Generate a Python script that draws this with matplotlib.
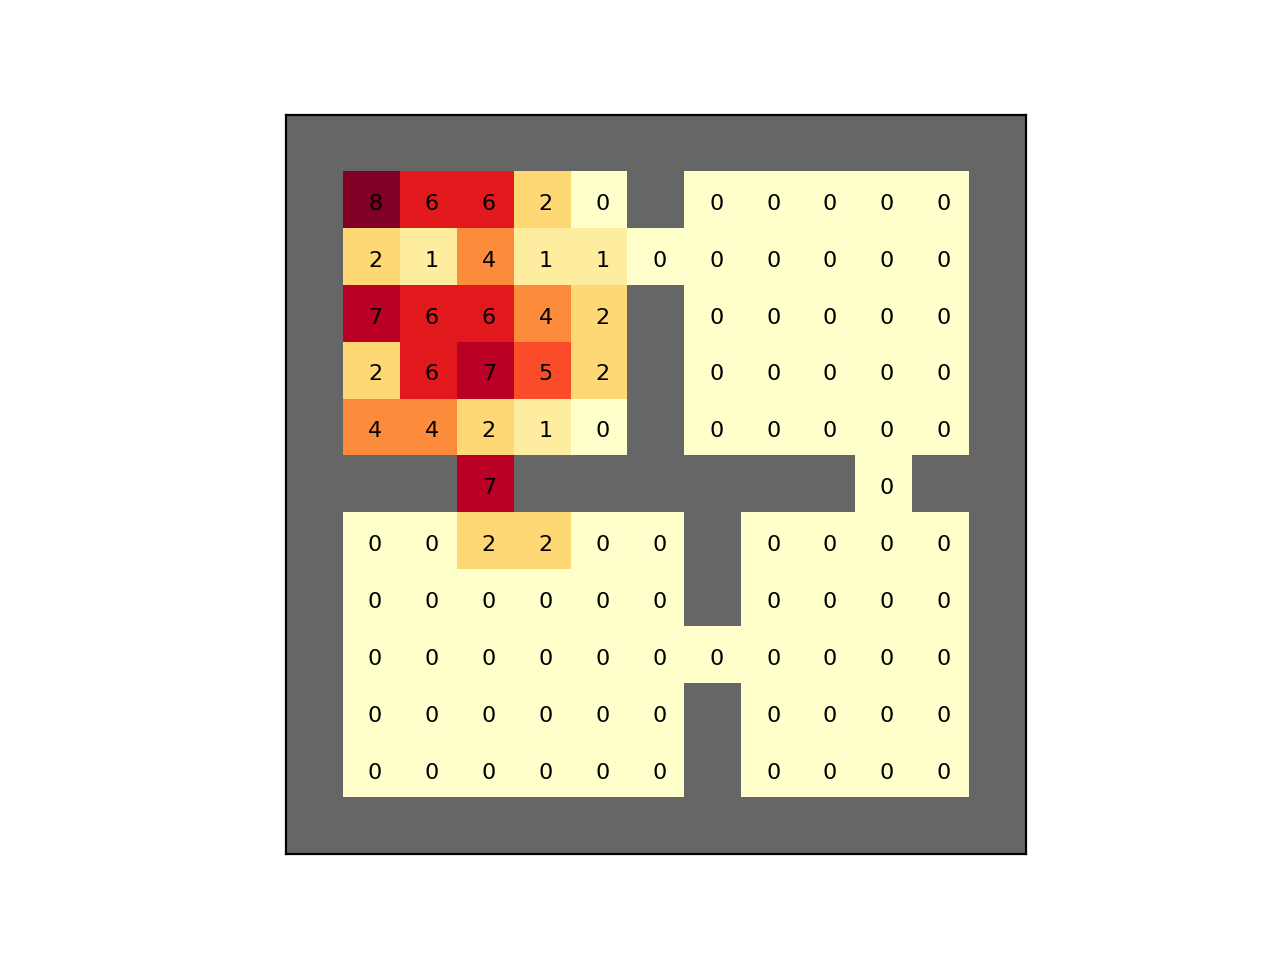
import numpy as np
import matplotlib
matplotlib.use('Agg')
import matplotlib.pyplot as plt

W = -1  # wall marker

grid = [
    [W, W, W, W, W, W, W, W, W, W, W, W, W],
    [W, 8, 6, 6, 2, 0, W, 0, 0, 0, 0, 0, W],
    [W, 2, 1, 4, 1, 1, 0, 0, 0, 0, 0, 0, W],
    [W, 7, 6, 6, 4, 2, W, 0, 0, 0, 0, 0, W],
    [W, 2, 6, 7, 5, 2, W, 0, 0, 0, 0, 0, W],
    [W, 4, 4, 2, 1, 0, W, 0, 0, 0, 0, 0, W],
    [W, W, W, 7, W, W, W, W, W, W, 0, W, W],
    [W, 0, 0, 2, 2, 0, 0, W, 0, 0, 0, 0, W],
    [W, 0, 0, 0, 0, 0, 0, W, 0, 0, 0, 0, W],
    [W, 0, 0, 0, 0, 0, 0, 0, 0, 0, 0, 0, W],
    [W, 0, 0, 0, 0, 0, 0, W, 0, 0, 0, 0, W],
    [W, 0, 0, 0, 0, 0, 0, W, 0, 0, 0, 0, W],
    [W, W, W, W, W, W, W, W, W, W, W, W, W],
]

data = np.array(grid)
masked = np.ma.masked_where(data == W, data)

cmap = plt.get_cmap('YlOrRd').copy()
cmap.set_bad('#666666')

fig, ax = plt.subplots(figsize=(6.4, 4.8), dpi=200)
ax.imshow(masked, cmap=cmap, vmin=0, vmax=8)

for i in range(data.shape[0]):
    for j in range(data.shape[1]):
        if data[i, j] != W:
            ax.text(j + 0.06, i + 0.06, str(data[i, j]), ha='center', va='center',
                    color='black', fontsize=8)

ax.set_xticks([])
ax.set_yticks([])
fig.savefig('out.png', dpi=200)
